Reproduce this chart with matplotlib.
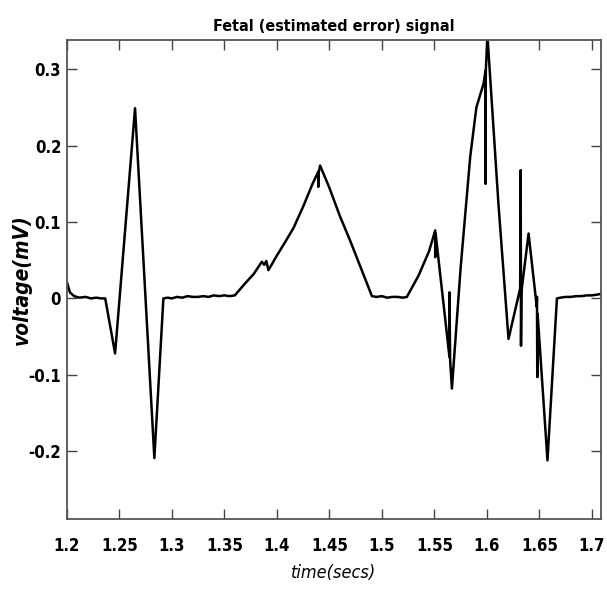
import matplotlib
matplotlib.use("Agg")
from matplotlib import pyplot as plt

plt.rcParams['font.family'] = ['DejaVu Sans']
plt.rcParams['font.stretch'] = 'condensed'

# traced samples of the estimated fetal signal (time in secs, voltage in mV)
t = [1.2000, 1.2030, 1.2070, 1.2120, 1.2180, 1.2230, 1.2280, 1.2330, 1.2366,
     1.2460, 1.2650, 1.2834, 1.2920,
     1.2960, 1.3000, 1.3050, 1.3100, 1.3150, 1.3200, 1.3250, 1.3300, 1.3350,
     1.3400, 1.3450, 1.3500, 1.3550, 1.3600,
     1.3700, 1.3780, 1.3857, 1.3880, 1.3900, 1.3920, 1.4000, 1.4080, 1.4158,
     1.4250, 1.4340, 1.4395, 1.4395, 1.4400, 1.4412,
     1.4500, 1.4600, 1.4700, 1.4800, 1.4880, 1.4905,
     1.4950, 1.5000, 1.5050, 1.5100, 1.5150, 1.5200, 1.5238,
     1.5350, 1.5450, 1.5508, 1.5508, 1.5512,
     1.5644, 1.5644, 1.5650, 1.5667,
     1.5750, 1.5841, 1.5900, 1.5968, 1.5987, 1.5987, 1.5990, 1.6005,
     1.6110, 1.6206, 1.6317, 1.6322, 1.6325, 1.6330, 1.6397,
     1.6475, 1.6477, 1.6480, 1.6483, 1.6577, 1.6667,
     1.6700, 1.6750, 1.6800, 1.6850, 1.6900, 1.6950, 1.7000, 1.7050, 1.7086]
v = [0.022, 0.008, 0.003, 0.001, 0.002, 0.000, 0.001, 0.000, 0.000,
     -0.072, 0.249, -0.209, 0.000,
     0.001, 0.000, 0.002, 0.001, 0.003, 0.002, 0.002, 0.003, 0.002,
     0.004, 0.003, 0.004, 0.003, 0.004,
     0.020, 0.032, 0.048, 0.044, 0.049, 0.037, 0.056, 0.074, 0.092,
     0.120, 0.150, 0.166, 0.146, 0.166, 0.174,
     0.145, 0.108, 0.075, 0.040, 0.012, 0.003,
     0.002, 0.003, 0.001, 0.002, 0.002, 0.001, 0.002,
     0.030, 0.062, 0.089, 0.054, 0.085,
     -0.077, 0.008, -0.080, -0.118,
     0.040, 0.185, 0.250, 0.281, 0.298, 0.150, 0.298, 0.345,
     0.124, -0.053, 0.013, 0.168, -0.062, 0.010, 0.085,
     -0.011, 0.002, -0.103, -0.020, -0.212, 0.000,
     0.001, 0.002, 0.002, 0.003, 0.003, 0.004, 0.004, 0.005, 0.006]

xticks = [1.2, 1.25, 1.3, 1.35, 1.4, 1.45, 1.5, 1.55, 1.6, 1.65, 1.7]
xticklabels = ['1.2', '1.25', '1.3', '1.35', '1.4', '1.45', '1.5', '1.55', '1.6', '1.65', '1.7']
yticks = [-0.2, -0.1, 0, 0.1, 0.2, 0.3]
yticklabels = ['-0.2', '-0.1', '0', '0.1', '0.2', '0.3']

fig = plt.figure(figsize=(6.07, 5.92), dpi=100)
ax = fig.add_axes([0.110, 0.123, 0.880, 0.809])

ax.plot(t, v, color='black', linewidth=1.8)

ax.set_xlim(1.2, 1.7086)
ax.set_ylim(-0.289, 0.338)
ax.set_xticks(xticks)
ax.set_xticklabels(xticklabels)
ax.set_yticks(yticks)
ax.set_yticklabels(yticklabels)

ax.tick_params(direction='in', top=True, right=True, length=7, width=1.0,
               color='#444444', labelsize=12)
ax.tick_params(axis='x', pad=13)
ax.tick_params(axis='y', pad=4)
for lab in ax.get_xticklabels() + ax.get_yticklabels():
    lab.set_fontweight('bold')
for sp in ax.spines.values():
    sp.set_color('#555555')
    sp.set_linewidth(1.3)

ax.set_title('Fetal (estimated error) signal', fontsize=11.5, fontweight='bold', pad=7)
ax.set_xlabel('time(secs)', fontsize=13, fontstyle='italic', labelpad=6)
ax.set_ylabel('voltage(mV)', fontsize=15, fontstyle='italic', fontweight='bold')
ax.yaxis.set_label_coords(-0.066, 0.5)

fig.savefig('out.png', dpi=100)
